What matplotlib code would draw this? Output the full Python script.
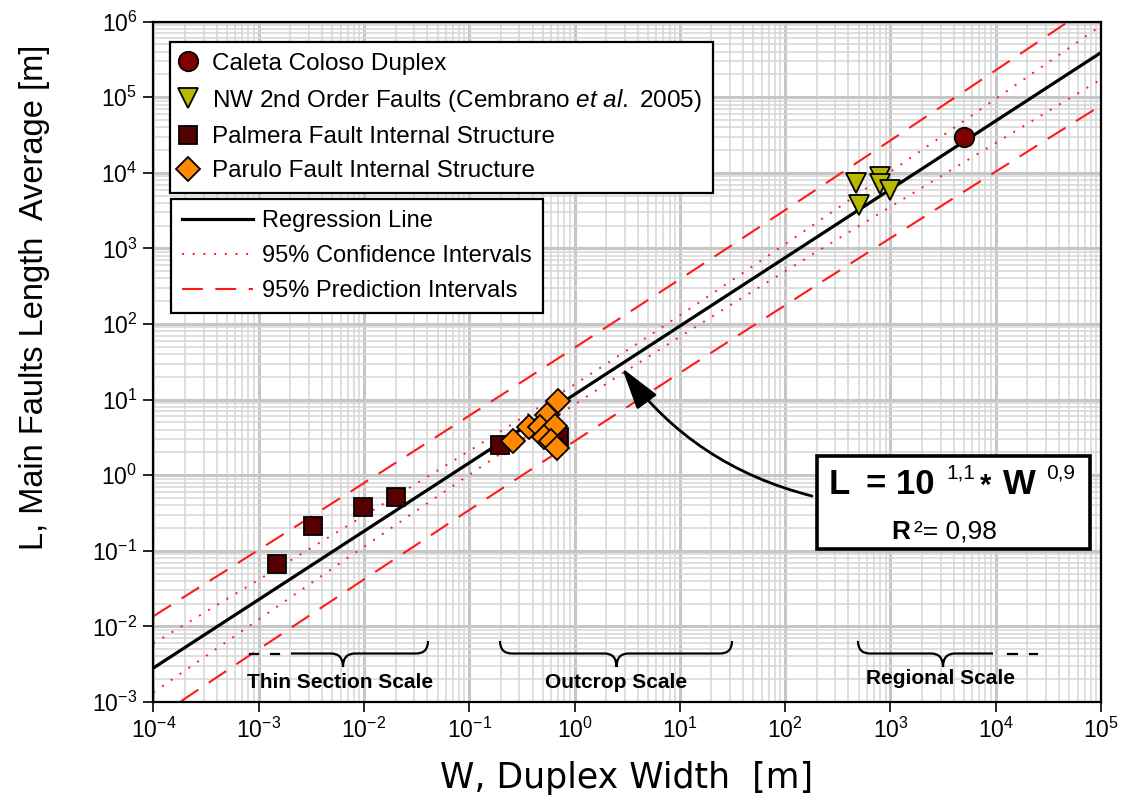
import numpy as np
import matplotlib
matplotlib.use('Agg')
import matplotlib.pyplot as plt
from matplotlib.path import Path
from matplotlib.patches import PathPatch, Rectangle
from matplotlib.lines import Line2D
from matplotlib.ticker import LogLocator, NullFormatter

plt.rcParams['font.family'] = ['Liberation Sans', 'DejaVu Sans']
plt.rcParams['mathtext.fontset'] = 'custom'
plt.rcParams['mathtext.rm'] = 'Liberation Sans'
plt.rcParams['mathtext.it'] = 'Liberation Sans:italic'
plt.rcParams['mathtext.bf'] = 'Liberation Sans:bold'

# ---------------- data (W = duplex width [m], L = main faults length [m]) ----------------
caleta_w = [5000]
caleta_l = [29500]
nw_w = [470, 500, 800, 800, 1000]
nw_l = [7300, 3800, 8800, 7100, 5900]
palmera_w = [0.0015, 0.0033, 0.0099, 0.020, 0.195, 0.71]
palmera_l = [0.067, 0.21, 0.38, 0.51, 2.5, 3.2]
parulo_w = [0.26, 0.37, 0.69, 0.55, 0.47, 0.66, 0.51, 0.60, 0.68]
parulo_l = [2.8, 4.4, 9.7, 6.2, 4.3, 4.5, 3.2, 2.8, 2.3]

legend_labels = ["Caleta Coloso Duplex",
                 r"NW 2nd Order Faults (Cembrano $\mathit{et\ al.}$ 2005)",
                 "Palmera Fault Internal Structure",
                 "Parulo Fault Internal Structure"]
line_labels = ["Regression Line", "95% Confidence Intervals", "95% Prediction Intervals"]
scale_labels = ["Thin Section Scale", "Outcrop Scale", "Regional Scale"]
x_label = "W, Duplex Width  [m]"
y_label = "L, Main Faults Length  Average [m]"

T95 = 2.093  # Student t, 95 %, n-2 = 19 d.o.f.

# ---------------- regression in log space ----------------
allw = np.log10(np.array(caleta_w + nw_w + palmera_w + parulo_w, float))
alll = np.log10(np.array(caleta_l + nw_l + palmera_l + parulo_l, float))
n = len(allw)
xm = allw.mean()
sxx = ((allw - xm) ** 2).sum()
slope = ((allw - xm) * (alll - alll.mean())).sum() / sxx
icpt = alll.mean() - slope * xm
resid = alll - (icpt + slope * allw)
s = np.sqrt((resid ** 2).sum() / (n - 2))

xg = np.linspace(-4, 5, 400)
yg = icpt + slope * xg
ci = T95 * s * np.sqrt(1.0 / n + (xg - xm) ** 2 / sxx)
pi = T95 * s * np.sqrt(1 + 1.0 / n + (xg - xm) ** 2 / sxx)

W, H = 1124, 806
fig = plt.figure(figsize=(W / 100, H / 100), dpi=100)
fig.patch.set_facecolor('white')


def fx(x):
    return x / W


def fy(y):
    return 1 - y / H


ax = fig.add_axes([153.3 / W, (H - 702) / H, (1101 - 153.3) / W, (702 - 21.6) / H])
ax.set_xscale('log')
ax.set_yscale('log')
ax.set_xlim(1e-4, 1e5)
ax.set_ylim(1e-3, 1e6)
ax.xaxis.set_major_locator(LogLocator(base=10, numticks=20))
ax.yaxis.set_major_locator(LogLocator(base=10, numticks=20))
ax.xaxis.set_minor_locator(LogLocator(base=10, subs=np.arange(2, 10), numticks=200))
ax.yaxis.set_minor_locator(LogLocator(base=10, subs=np.arange(2, 10), numticks=200))
ax.xaxis.set_minor_formatter(NullFormatter())
ax.yaxis.set_minor_formatter(NullFormatter())
ax.tick_params(which='major', direction='out', length=7.5, width=1.2, labelsize=16.5, pad=4)
ax.tick_params(which='minor', length=0)
ax.set_axisbelow(True)
ax.grid(which='major', color='#c6c6c6', lw=2.2)
ax.grid(which='minor', color='#d6d6d6', lw=1.1)
for sp in ax.spines.values():
    sp.set_linewidth(1.6)

X = 10 ** xg
red = '#ff1a1a'
ax.plot(X, 10 ** (yg + pi), color=red, lw=1.5, dashes=(10, 6), zorder=2)
ax.plot(X, 10 ** (yg - pi), color=red, lw=1.5, dashes=(10, 6), zorder=2)
ax.plot(X, 10 ** (yg + ci), color=red, lw=1.4, dashes=(1, 4.5), zorder=2)
ax.plot(X, 10 ** (yg - ci), color=red, lw=1.4, dashes=(1, 4.5), zorder=2)
ax.plot(X, 10 ** yg, color='black', lw=2.3, zorder=3)

mk = dict(ls='none', mec='black', mew=1.3, zorder=5)
ax.plot(palmera_w, palmera_l, marker='s', ms=12.5, mfc='#550000', **mk)
ax.plot(parulo_w, parulo_l, marker='D', ms=12.5, mfc='#ff8800', **mk)
ax.plot(nw_w, nw_l, marker='v', ms=14, mfc='#b8b800', **mk)
ax.plot(caleta_w, caleta_l, marker='o', ms=14, mfc='#800000', **mk)

ax.set_xlabel('')
ax.set_ylabel('')
fig.text(fx(627), fy(778), x_label, fontsize=25, family=['DejaVu Sans'], ha='center', va='center')
fig.text(fx(35), fy(297), y_label, fontsize=23.5, ha='center', va='center', rotation=90)

# legends
h1 = [Line2D([], [], marker='o', ms=14, mfc='#800000', **mk),
      Line2D([], [], marker='v', ms=14, mfc='#b8b800', **mk),
      Line2D([], [], marker='s', ms=12.5, mfc='#550000', **mk),
      Line2D([], [], marker='D', ms=12.5, mfc='#ff8800', **mk)]
leg1 = ax.legend(h1, legend_labels, loc='upper left', bbox_to_anchor=(fx(169.5), fy(41.8)),
                 bbox_transform=fig.transFigure, fontsize=17.5, frameon=True, fancybox=False,
                 edgecolor='black', framealpha=1, borderpad=0.45, labelspacing=0.5,
                 handlelength=0.6, handletextpad=0.7, borderaxespad=0)
leg1.get_frame().set_linewidth(1.6)
ax.add_artist(leg1)
h2 = [Line2D([], [], color='black', lw=2.3),
      Line2D([], [], color=red, lw=1.4, dashes=(1, 4.5)),
      Line2D([], [], color=red, lw=1.5, dashes=(10, 6))]
leg2 = ax.legend(h2, line_labels, loc='upper left', bbox_to_anchor=(fx(171.4), fy(199.3)),
                 bbox_transform=fig.transFigure, fontsize=17, frameon=True, fancybox=False,
                 edgecolor='black', framealpha=1, borderpad=0.45, labelspacing=0.56,
                 handlelength=3.0, handletextpad=0.4, borderaxespad=0)
leg2.get_frame().set_linewidth(1.6)

# equation box
fig.add_artist(Rectangle((fx(817), fy(549)), fx(1090 - 817), (549 - 456) / H, transform=fig.transFigure,
                         facecolor='white', edgecolor='black', lw=2.6, zorder=6))
tb = dict(transform=fig.transFigure, va='baseline', zorder=7)
fig.text(fx(829), fy(494), 'L', fontsize=25, fontweight='bold', **tb)
fig.text(fx(866), fy(494), '= 10', fontsize=25, fontweight='bold', **tb)
fig.text(fx(946), fy(478), '1,1', fontsize=15, **tb)
fig.text(fx(980), fy(494), '*', fontsize=21, fontweight='bold', **tb)
fig.text(fx(1003), fy(494), 'W', fontsize=25, fontweight='bold', **tb)
fig.text(fx(1046), fy(478), '0,9', fontsize=15, **tb)
fig.text(fx(891), fy(539), 'R', fontsize=19, fontweight='bold', **tb)
fig.text(fx(914), fy(539), '\u00b2= 0,98', fontsize=19, **tb)

# arrow
ax.annotate('', xy=(622, H - 368), xycoords='figure pixels', xytext=(812, H - 496),
            textcoords='figure pixels',
            arrowprops=dict(arrowstyle='-|>,head_length=1.3,head_width=0.38', mutation_scale=20,
                            lw=2, color='black', connectionstyle='arc3,rad=-0.18',
                            shrinkA=0, shrinkB=0), zorder=6)


# braces
def brace(x0, x1, xc, curl_left=True, curl_right=True, ytop=641, ymid=653.5, ybot=667, r=12):
    verts, codes = [], []
    if curl_left:
        verts += [(x0, ytop), (x0, ymid), (x0 + r, ymid)]
        codes += [Path.MOVETO, Path.CURVE3, Path.CURVE3]
    else:
        verts += [(x0, ymid)]
        codes += [Path.MOVETO]
    verts += [(xc - r, ymid), (xc, ymid), (xc, ybot), (xc, ymid), (xc + r, ymid)]
    codes += [Path.LINETO, Path.CURVE3, Path.CURVE3, Path.CURVE3, Path.CURVE3]
    if curl_right:
        verts += [(x1 - r, ymid), (x1, ymid), (x1, ytop)]
        codes += [Path.LINETO, Path.CURVE3, Path.CURVE3]
    else:
        verts += [(x1, ymid)]
        codes += [Path.LINETO]
    verts = [(fx(a), fy(b)) for a, b in verts]
    fig.add_artist(PathPatch(Path(verts, codes), transform=fig.transFigure, fill=False,
                             edgecolor='black', lw=1.6, zorder=4))


brace(291, 428, 343, curl_left=False)
brace(500, 732, 616.5)
brace(858, 993, 943, curl_right=False)
for a, b in [(250, 258), (271, 279), (1008, 1017), (1030, 1037)]:
    fig.add_artist(Line2D([fx(a), fx(b)], [fy(653.5), fy(653.5)], transform=fig.transFigure,
                          color='black', lw=1.6, zorder=4))

fig.text(fx(340), fy(683), scale_labels[0], fontsize=15, fontweight='bold', ha='center', va='center')
fig.text(fx(616), fy(683), scale_labels[1], fontsize=15, fontweight='bold', ha='center', va='center')
fig.text(fx(941), fy(679), scale_labels[2], fontsize=15, fontweight='bold', ha='center', va='center')

fig.savefig('out.png', dpi=100)
